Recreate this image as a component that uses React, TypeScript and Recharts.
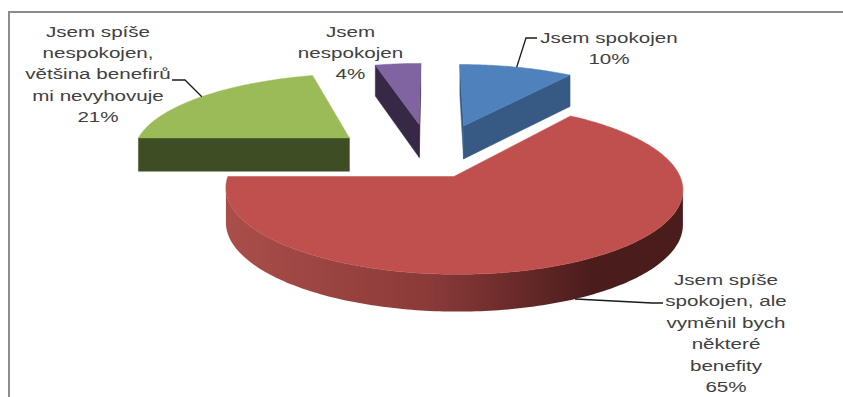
import React from 'react';
import { PieChart, Pie } from 'recharts';

// ---------- data ----------
const categories: string[] = [
  'Jsem spokojen',
  'Jsem spíše spokojen, ale vyměnil bych některé benefity',
  'Jsem spíše nespokojen, většina benefirů mi nevyhovuje',
  'Jsem nespokojen',
];
const values: number[] = [10, 65, 21, 4];

const rows = categories.map((name, i) => ({ name, value: values[i] }));

// ---------- style / layout ----------
const W = 843;
const H = 397;
const PIE_CX = 432;
const PIE_CY = 161;
const PIE_R = 220;
const PERSP = 1455;
const SIN_T = 0.36;
const COS_T = Math.sqrt(1 - SIN_T * SIN_T);
const WALL = 34;

const TOP_COLORS = ['#4f81bd', '#c0504d', '#9bbb59', '#8064a2'];
const SIDE_COLORS = ['#375a85', '#8a3a38', '#3f4d24', '#372946'];
const WALL_GRAD: string[][] = [
  ['#4a76ad', '#3d6494', '#2c4a70'],
  ['#aa4e4b', '#8a3a38', '#4b1c1c'],
  ['#8aa84f', '#6e873e', '#4a5c28'],
  ['#73599a', '#5b477c', '#3e3056'],
];
const EXPLODE = [109, 47, 109, 109];
const WRAP = [14, 13, 16, 11];
const LABEL_POS = [
  { x: 609, y: 42.5 },
  { x: 726, y: 285 },
  { x: 98, y: 36.5 },
  { x: 350.5, y: 36.5 },
];
const LEADERS: (null | { elbow: [number, number]; end: [number, number] })[] = [
  { elbow: [526, 38], end: [537, 38] },
  { elbow: [652, 303], end: [663, 303] },
  { elbow: [185, 80], end: [172, 80] },
  null,
];
const FONT = "'Liberation Sans', Arial, sans-serif";
const FONT_SIZE = 15.5;
const SCALE_X = 1.33;
const LINE_H = 21.5;
const TEXT_COLOR = '#404040';

type Pt = { x: number; y: number; s: number };

function project(cx: number, cy: number, X: number, Z: number): Pt {
  const s = PERSP / (PERSP + Z * COS_T);
  return { x: cx + X * s, y: cy - Z * SIN_T * s, s };
}

const rad = (d: number) => (d * Math.PI) / 180;
const down = (p: Pt) => ({ x: p.x, y: p.y + WALL * Math.sqrt(p.s), s: p.s });
const pathOf = (pts: { x: number; y: number }[]) =>
  pts.map((p, i) => `${i ? 'L' : 'M'}${p.x.toFixed(2)} ${p.y.toFixed(2)}`).join(' ') + ' Z';

function wrap(text: string, max: number): string[] {
  const words = text.split(' ');
  const lines: string[] = [];
  let cur = '';
  for (const w of words) {
    if (!cur) cur = w;
    else if ((cur + ' ' + w).length <= max) cur += ' ' + w;
    else {
      lines.push(cur);
      cur = w;
    }
  }
  if (cur) lines.push(cur);
  return lines;
}

function Slice3D(props: any) {
  const { cx, cy, outerRadius, startAngle, endAngle, percent, index, name } = props;
  const R = outerRadius;
  const t1 = 90 - startAngle;
  const t2 = 90 - endAngle;
  const tm = (t1 + t2) / 2;
  const e = EXPLODE[index];
  const ox = e * Math.sin(rad(tm));
  const oz = e * Math.cos(rad(tm));
  const P = (t: number) => project(cx, cy, ox + R * Math.sin(rad(t)), oz + R * Math.cos(rad(t)));
  const apex = project(cx, cy, ox, oz);
  const n = Math.max(2, Math.ceil(Math.abs(t2 - t1)));
  const arc: Pt[] = [];
  for (let k = 0; k <= n; k++) arc.push(P(t1 + ((t2 - t1) * k) / n));
  const poly = [apex, ...arc];
  let area = 0;
  for (let i = 0; i < poly.length; i++) {
    const a = poly[i];
    const b = poly[(i + 1) % poly.length];
    area += a.x * b.y - b.x * a.y;
  }
  const vis = (a: Pt, b: Pt) => (area > 0 ? b.x - a.x < -1e-6 : b.x - a.x > 1e-6);

  const faces: React.ReactNode[] = [];
  const quad = (a: Pt, b: Pt) => pathOf([a, b, down(b), down(a)]);
  if (vis(apex, arc[0]))
    faces.push(<path key="r1" d={quad(apex, arc[0])} fill={SIDE_COLORS[index]} stroke={SIDE_COLORS[index]} strokeWidth={0.5} />);
  if (vis(arc[n], apex))
    faces.push(<path key="r2" d={quad(arc[n], apex)} fill={SIDE_COLORS[index]} stroke={SIDE_COLORS[index]} strokeWidth={0.5} />);

  const runs: Pt[][] = [];
  let run: Pt[] = [];
  for (let k = 0; k < n; k++) {
    if (vis(arc[k], arc[k + 1])) {
      if (!run.length) run.push(arc[k]);
      run.push(arc[k + 1]);
    } else if (run.length) {
      runs.push(run);
      run = [];
    }
  }
  if (run.length) runs.push(run);
  const gid = `wallgrad-${index}`;
  let gx1 = 0;
  let gx2 = 1;
  if (runs.length) {
    const xs = runs.flat().map((p) => p.x);
    gx1 = Math.min(...xs);
    gx2 = Math.max(...xs);
  }
  runs.forEach((r, i) => {
    const pts = [...r, ...r.slice().reverse().map(down)];
    faces.push(<path key={`w${i}`} d={pathOf(pts)} fill={`url(#${gid})`} stroke="none" />);
  });

  const lines = wrap(name, WRAP[index]);
  lines.push(`${Math.round(percent * 100)}%`);
  const lp = LABEL_POS[index];
  const leader = LEADERS[index];
  let leaderPath = '';
  if (leader) {
    const st = Math.cos(rad(tm)) < 0 ? down(P(tm)) : P(tm);
    leaderPath = `M${st.x.toFixed(2)} ${st.y.toFixed(2)} L${leader.elbow[0]} ${leader.elbow[1]} L${leader.end[0]} ${leader.end[1]}`;
  }

  return (
    <g>
      <defs>
        <linearGradient id={gid} gradientUnits="userSpaceOnUse" x1={gx1} y1={0} x2={gx2} y2={0}>
          <stop offset="0" stopColor={WALL_GRAD[index][0]} />
          <stop offset="0.45" stopColor={WALL_GRAD[index][1]} />
          <stop offset="0.8" stopColor={WALL_GRAD[index][2]} />
          <stop offset="1" stopColor={WALL_GRAD[index][2]} />
        </linearGradient>
      </defs>
      {faces}
      <path d={pathOf(poly)} fill={TOP_COLORS[index]} stroke={TOP_COLORS[index]} strokeWidth={0.5} />
      {leader && <path d={leaderPath} fill="none" stroke="#1a1a1a" strokeWidth={1.3} />}
      <text
        transform={`translate(${lp.x} ${lp.y}) scale(${SCALE_X} 1)`}
        textAnchor="middle"
        fontFamily={FONT}
        fontSize={FONT_SIZE}
        fill={TEXT_COLOR}
      >
        {lines.map((l, i) => (
          <tspan key={i} x={0} y={i * LINE_H}>
            {l}
          </tspan>
        ))}
      </text>
    </g>
  );
}

export default function App() {
  return (
    <div style={{ position: 'absolute', left: 0, top: 0, width: W, height: H, overflow: 'hidden', background: '#fff' }}>
      <div
        style={{
          position: 'absolute',
          left: 8,
          top: 11,
          width: 1200,
          height: 1200,
          borderLeft: '2px solid #8c8c8c',
          borderTop: '2px solid #8c8c8c',
        }}
      />
      <div style={{ position: 'absolute', left: 0, top: 0 }}>
        <PieChart width={W} height={H} margin={{ top: 0, right: 0, bottom: 0, left: 0 }}>
          <Pie
            data={rows}
            dataKey="value"
            nameKey="name"
            cx={PIE_CX}
            cy={PIE_CY}
            outerRadius={PIE_R}
            innerRadius={0}
            startAngle={90}
            endAngle={-270}
            fill="none"
            stroke="none"
            label={Slice3D}
            labelLine={false}
            isAnimationActive={false}
          />
        </PieChart>
      </div>
    </div>
  );
}
